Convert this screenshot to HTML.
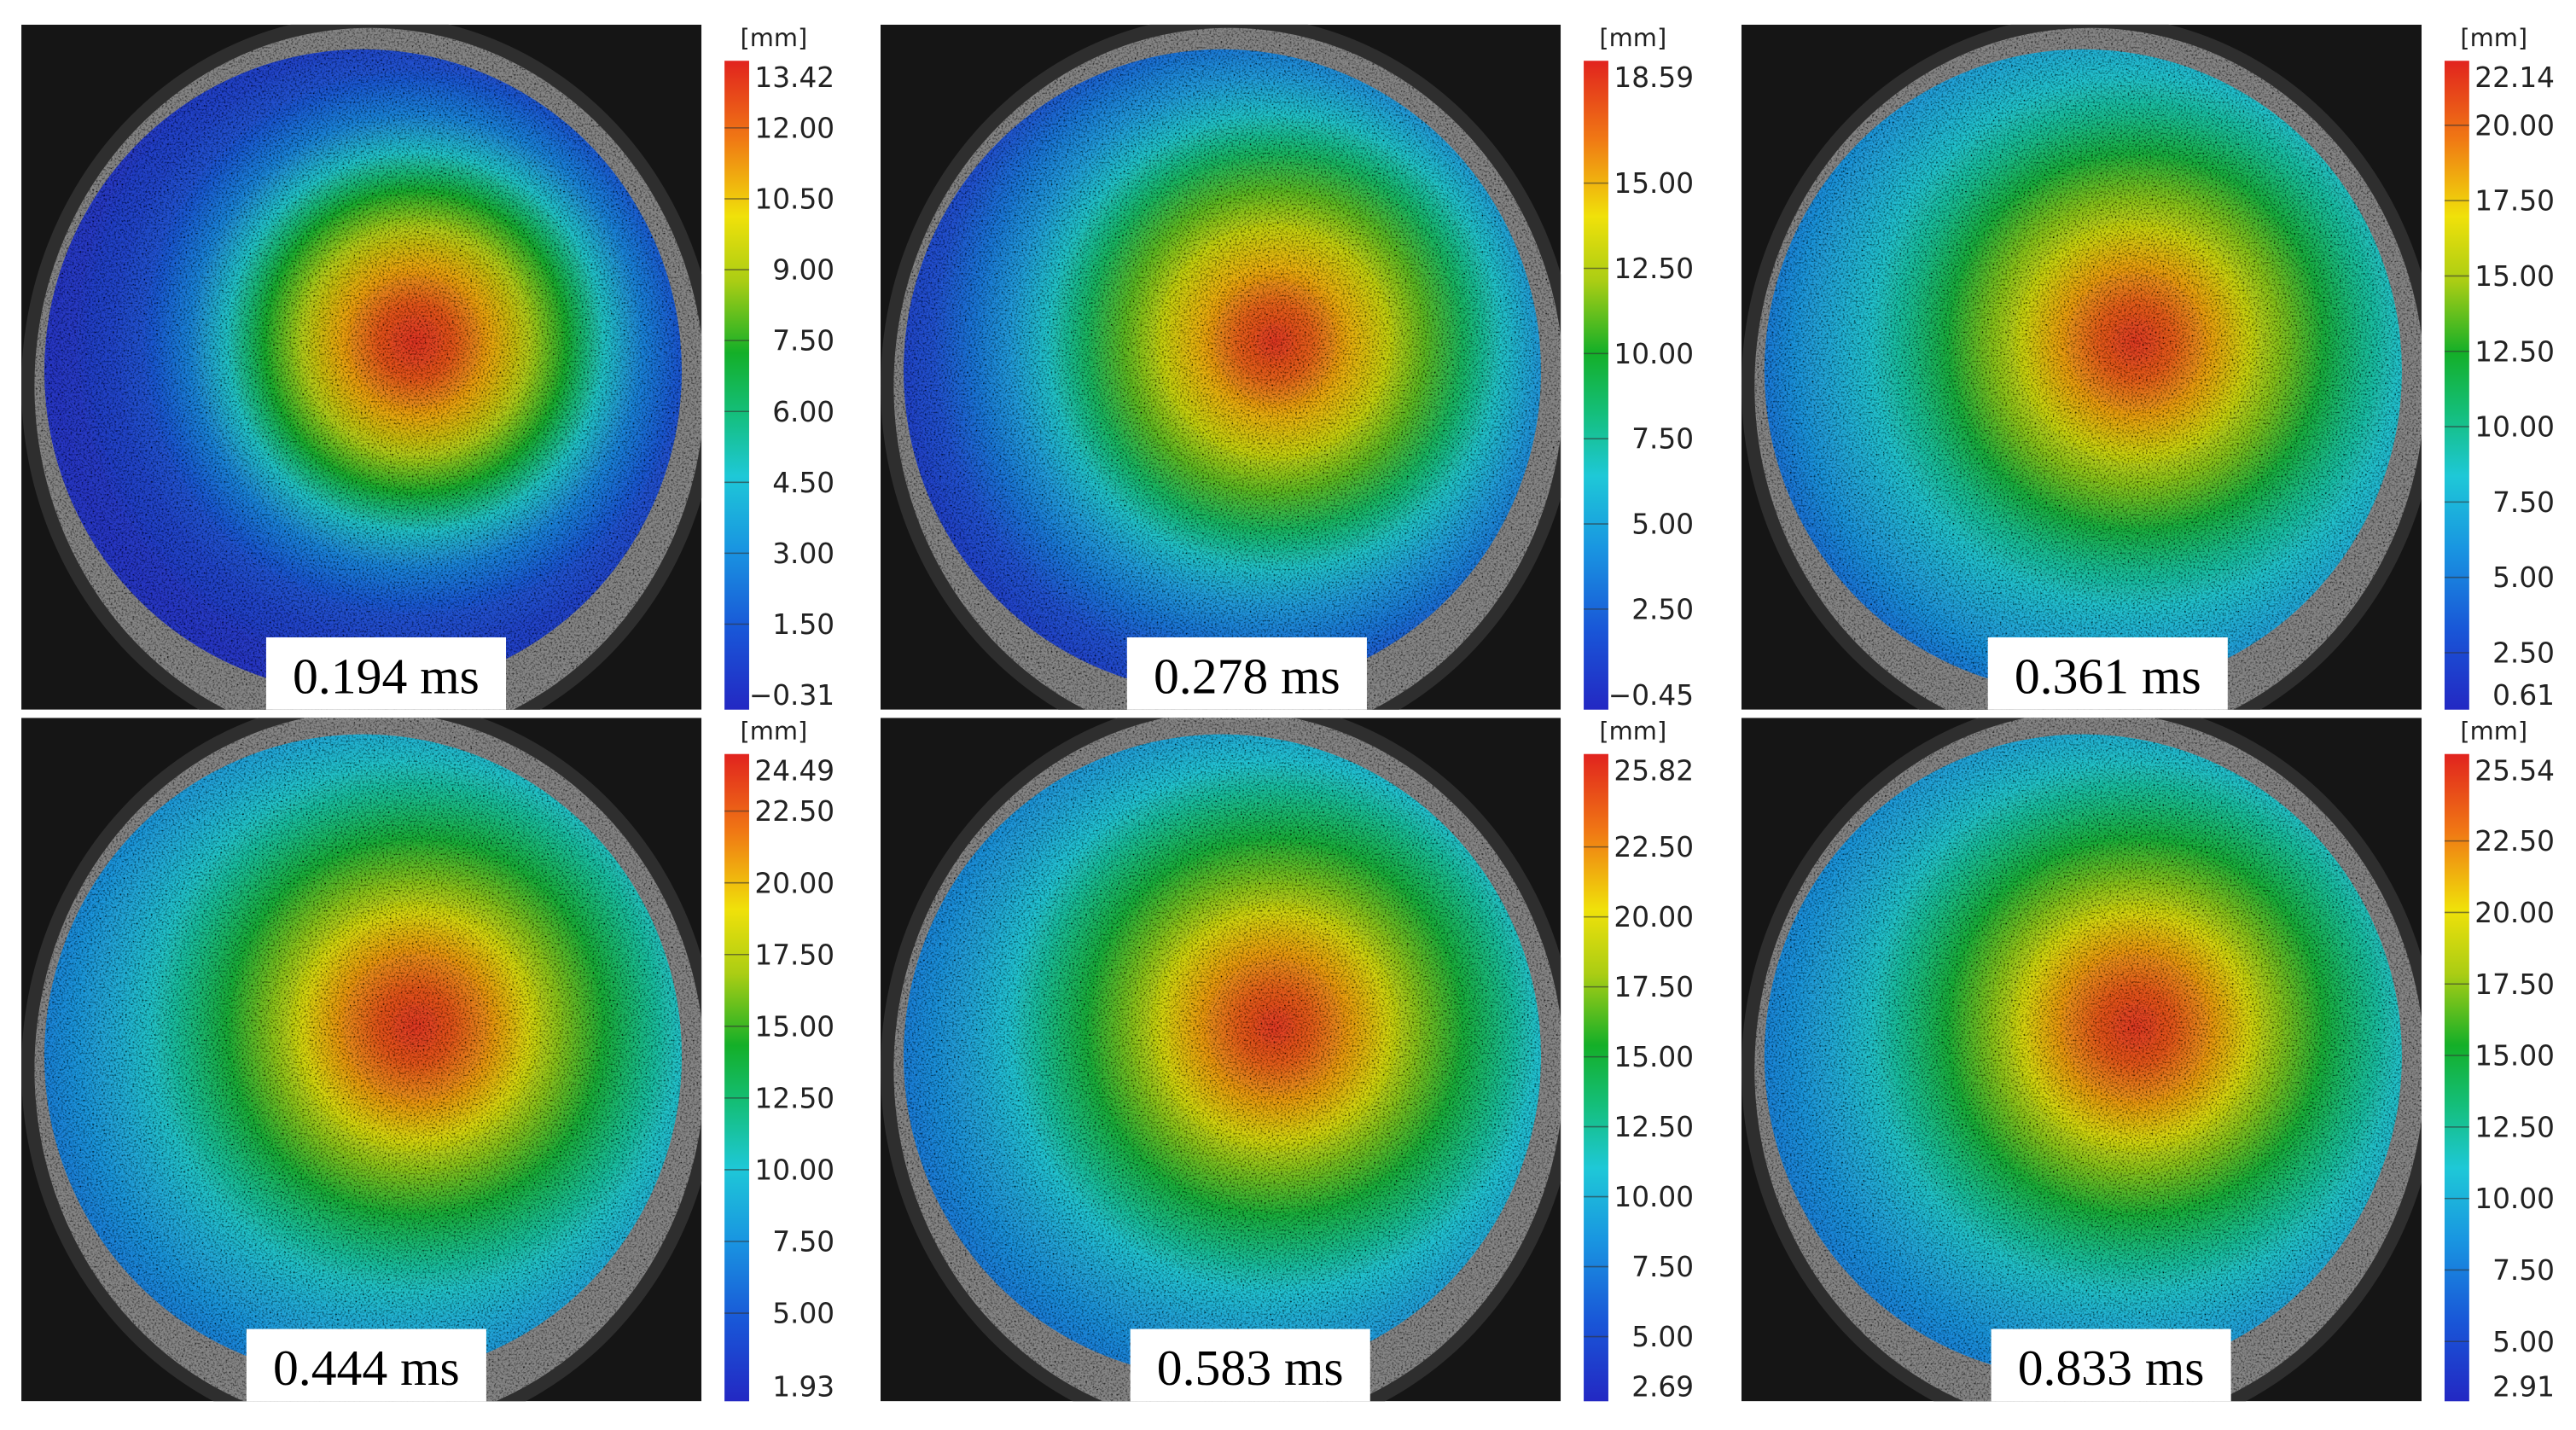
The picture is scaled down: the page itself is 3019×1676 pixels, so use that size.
<!DOCTYPE html>
<html><head><meta charset="utf-8"><style>
html,body{margin:0;padding:0;background:#fff;}
svg{display:block;}
</style></head><body>
<svg id="fig" xmlns="http://www.w3.org/2000/svg" width="3019" height="1676" viewBox="0 0 1568 870.5" preserveAspectRatio="none">
<defs>
<filter id="speck" x="0" y="0" width="100%" height="100%">
<feTurbulence type="fractalNoise" baseFrequency="0.9" numOctaves="2" seed="3" result="n"/>
<feColorMatrix in="n" type="matrix" values="0 0 0 0 0  0 0 0 0 0  0 0 0 0 0  0 0 0 -2.4 1.35" result="a"/>
<feComposite in="a" in2="SourceGraphic" operator="in" result="d"/>
<feMerge><feMergeNode in="SourceGraphic"/><feMergeNode in="d"/></feMerge>
</filter>
</defs>
</svg>
<script>
// ---- data ----
const times = ["0.194 ms","0.278 ms","0.361 ms","0.444 ms","0.583 ms","0.833 ms"];
const minVals = [-0.31,-0.45,0.61,1.93,2.69,2.91];
const maxVals = [13.42,18.59,22.14,24.49,25.82,25.54];
const tickVals1 = [12.00,10.50,9.00,7.50,6.00,4.50,3.00,1.50];
const tickVals2 = [15.00,12.50,10.00,7.50,5.00,2.50];
const tickVals3 = [20.00,17.50,15.00,12.50,10.00,7.50,5.00,2.50];
const tickVals4 = [22.50,20.00,17.50,15.00,12.50,10.00,7.50,5.00];
const tickVals5 = [22.50,20.00,17.50,15.00,12.50,10.00,7.50,5.00];
const tickVals6 = [22.50,20.00,17.50,15.00,12.50,10.00,7.50,5.00];
const tickSets = [tickVals1,tickVals2,tickVals3,tickVals4,tickVals5,tickVals6];
// radial displacement profile, sampled at radius fractions 0,0.1,...,1.0
const profile1 = [13.2,12.5,11.0,9.0,7.2,4.8,2.6,1.3,0.6,0.2,0.0];
const profile2 = [18.2,17.0,15.0,13.0,11.0,8.8,6.6,4.6,3.0,1.6,0.6];
const profile3 = [21.6,20.5,18.5,16.0,14.0,12.0,10.0,8.5,7.2,6.0,4.5];
const profile4 = [24.0,23.0,21.0,18.5,16.0,14.0,12.0,10.3,8.8,7.6,6.5];
const profile5 = [25.3,24.0,22.0,19.5,17.0,15.0,13.0,11.0,9.5,8.3,7.2];
const profile6 = [25.0,24.0,22.0,19.5,17.0,15.0,13.0,11.3,9.8,8.6,7.6];
const profiles = [profile1,profile2,profile3,profile4,profile5,profile6];

const NS = "http://www.w3.org/2000/svg";
const svg = document.getElementById('fig');
const defs = svg.querySelector('defs');
function mk(tag, attrs, parent){const e=document.createElementNS(NS,tag);for(const k in attrs)e.setAttribute(k,attrs[k]);(parent||svg).appendChild(e);return e;}

const jet=[[0,[35,40,195]],[0.12,[25,85,215]],[0.25,[25,150,225]],[0.36,[30,200,215]],[0.46,[20,190,120]],[0.55,[20,175,40]],[0.66,[170,205,20]],[0.76,[240,225,10]],[0.88,[240,120,20]],[1,[225,35,30]]];
function jetColor(t){t=Math.max(0,Math.min(1,t));for(let i=1;i<jet.length;i++){if(t<=jet[i][0]){const a=jet[i-1],b=jet[i];const f=(t-a[0])/(b[0]-a[0]);const c=a[1].map((v,k)=>Math.round(v+(b[1][k]-v)*f));return `rgb(${c[0]},${c[1]},${c[2]})`;}}return 'rgb(225,35,30)';}

const colX=[13,536,1060];
const rowY=[15,437];
const PW=414, PH=[417,416];
const boxX=[[162,686,1210],[150,688,1212]];

for(let p=0;p<6;p++){
  const r=Math.floor(p/3), c=p%3;
  const x0=colX[c], y0=rowY[r], ph=PH[r];
  const g=mk('g',{});
  
  
  const clip=mk('clipPath',{id:'clip'+p},defs);
  mk('rect',{x:x0,y:y0,width:PW,height:ph},clip);
  const img=mk('g',{'clip-path':`url(#clip${p})`},g);
  
  
  mk('rect',{x:x0,y:y0,width:PW,height:ph,fill:'#151515'},img);
  mk('ellipse',{cx:x0+212,cy:y0+(r?214:220),rx:212,ry:226,fill:'#2e2e2e'},img);
  mk('ellipse',{cx:x0+212,cy:y0+(r?214:220),rx:204,ry:218,fill:'#858585',filter:'url(#speck)'},img);
  // heat gradient
  const cx=x0+240, cy=y0+(r?188:193);
  const grad=mk('radialGradient',{id:'rg'+p,gradientUnits:'userSpaceOnUse',cx:cx,cy:cy,r:230},defs);
  const prof=profiles[p];
  prof.forEach((v,i)=>{mk('stop',{offset:(i/(prof.length-1)),'stop-color':jetColor((v-minVals[p])/(maxVals[p]-minVals[p]))},grad);});
  const disk=mk('ellipse',{cx:x0+208,cy:y0+(r?206:211),rx:194,ry:196,fill:`url(#rg${p})`,filter:'url(#speck)',opacity:0.93},img);
  
  
  // time label
  const bx=boxX[r][c];
  const box=mk('rect',{x:bx,y:y0+ph-44,width:146,height:44,fill:'#fff'},g);
  
  
  const tl=mk('text',{x:bx+73,y:y0+ph-10,'text-anchor':'middle','font-family':'"Liberation Serif",serif','font-size':31,fill:'#000'},g);
  tl.textContent=times[p];
  
  
  // colorbar
  const cbx=x0+428, cbTop=y0+22, cbBot=y0+ph;
  const lg=mk('linearGradient',{id:'cb'+p,x1:0,y1:1,x2:0,y2:0},defs);
  jet.forEach(s=>mk('stop',{offset:s[0],'stop-color':jetColor(s[0])},lg));
  const bar=mk('rect',{x:cbx,y:cbTop,width:15,height:cbBot-cbTop,fill:`url(#cb${p})`},g);
  
  
  const unit=mk('text',{x:cbx+30,y:y0+13,'text-anchor':'middle','font-family':'"DejaVu Sans","Liberation Sans",sans-serif','font-size':15,fill:'#222'},g);
  unit.textContent='[mm]';
  
  
  const yOf=v=>cbBot-(v-minVals[p])/(maxVals[p]-minVals[p])*(cbBot-cbTop);
  const labs=[maxVals[p],...tickSets[p],minVals[p]];
  labs.forEach((v,i)=>{
    let y=yOf(v);
    if(i>0&&i<labs.length-1) mk('line',{x1:cbx,x2:cbx+15,y1:y,y2:y,stroke:'#333','stroke-width':0.8,opacity:0.6},g);
    y=Math.max(cbTop+10,Math.min(cbBot-9,y));
    const t=mk('text',{x:cbx+67,y:y+6,'text-anchor':'end','font-family':'"DejaVu Sans","Liberation Sans",sans-serif','font-size':17,fill:'#222'},g);
    t.textContent=(v<0?'\u2212'+Math.abs(v).toFixed(2):v.toFixed(2));
    
    
  });
}
</script>
</body></html>
